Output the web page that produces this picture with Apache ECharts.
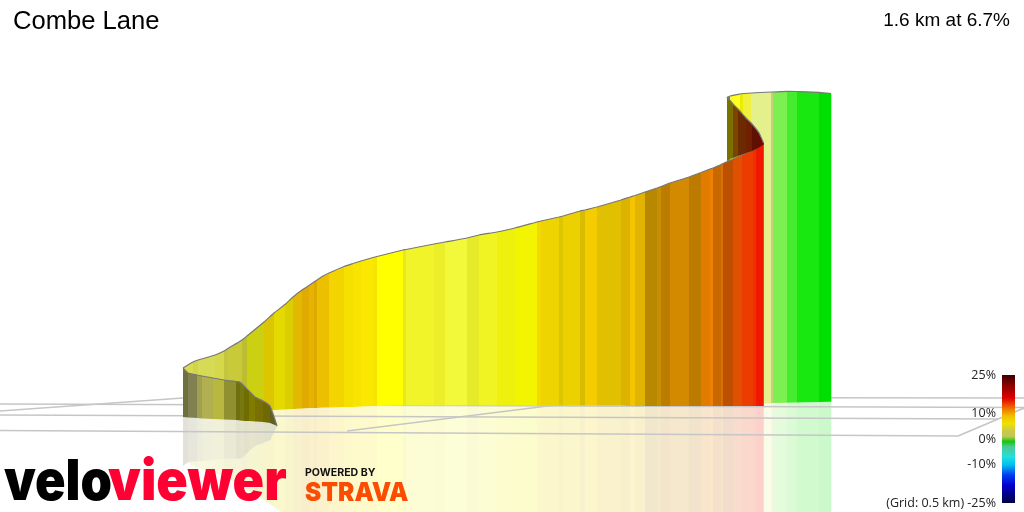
<!DOCTYPE html>
<html><head><meta charset="utf-8"><style>html,body{margin:0;padding:0;background:#fff}#c{width:1024px;height:512px}</style>
<script src="https://cdn.jsdelivr.net/npm/echarts@6/dist/echarts.min.js"></script></head>
<body><div id="c"></div><script>
const titleText = 'Combe Lane';
const summaryText = '1.6 km at 6.7%';
// long ribbon
const ribbonX = [183,193,198,215,224,228,242,247,264,274,285,293,302,309,314,317,323,329,344,353,361,373,377,403,406,434,445,467,479,497,515,537,541,559,563,580,585,597,621,630,635,645,657,661,670,689,701,710,713,721,723,733,742,753,756,763.5];
const ribbonTop = [368,362,360,355,351,348.5,340,336,322,313,304.5,297,290,285.5,282,280,276,273,266.5,263.5,261,257.5,256.5,250,249.5,244,242,238,235,232,228,222,221,217,216,211,210,207,200,197,195.5,192,188,186.5,183,177,172.5,169,168,164.5,163.5,159,155,150,148.5,144];
const ribbonBase = [414,414,414,414,413.5,413.5,413,413,411,410,409.5,409,408.5,408,408,408,407.5,407.5,407,407,406.5,406,406,405.5,405.5,405.5,405.5,405.5,405.5,405.5,405.5,405.5,405.5,405.5,405.5,405.5,405.5,405.5,405.5,406,406,406,406,406,406,406,406,406,406,406,406,406,406,406,406,406];
const ribbonColors = ['#d8dd50','#cfd448','#d6da55','#d4d84a','#c4c640','#c8ca3a','#bcbe30','#ccd012','#dcc600','#e4da00','#dccf00','#e2b800','#e0aa00','#e8b200','#dcaa00','#ecc000','#ecc000','#f4d400','#f6e000','#f8e400','#fae800','#f8e400','#ffff00','#e8e820','#f0f428','#ecee2a','#f2f83a','#e6ea28','#f0f422','#eef00e','#f2f400','#f4d800','#eed400','#dcc600','#ecd000','#d8bc00','#f4cc00','#e0c000','#dcb400','#f4c400','#e0b400','#b88800','#c89000','#bc7c00','#d48a00','#bc7a00','#e07c00','#f08000','#c86800','#d87000','#bc5000','#e05000','#ec3c00','#f03000','#f01800'];
// left curl, inside face
const curlX = [183,188,197,202,213,224,236,240,244,249,255,263,270,277];
const curlTop = [368,373,375,376,378,380,381.5,382,386,391,397,401,406,426];
const curlBase = [417,417.5,418,418.5,419,419.5,420,420.5,421,421,421.5,422,423,426];
const curlColors = ['#6e7040','#808050','#a0a050','#b0b050','#b8b840','#909030','#707010','#787810','#706c00','#807c00','#787000','#706800','#606020'];
// right curl, inside face
const hookX = [727,733,738,746,752,759,763.5];
const hookTop = [97,104,109,118,124,133,143];
const hookBase = [160,158,156,153,151,147.5,144.5];
const hookColors = ['#7a7000','#7c4400','#6c2a00','#702000','#601000','#7c0000'];
// final stretch behind the hook
const tailX = [727,730,740,743,751,771,773,787,797,819,831];
const tailTop = [97.5,96,94,93.5,93,92,92,91.3,91.5,92.3,93.7];
const tailBase = [404,404,404,404,404,403.5,403,402.7,402.5,402,401.7];
const tailColors = ['#8a8a10','#ffff20','#ecec00','#f0f040','#e4f08c','#c8d080','#7cf050','#44ec30','#18e810','#00e000'];
// floor grid
const gridLines = [
 [[0,411],[197,397],[1024,398]],
 [[0,404],[1024,407.5]],
 [[0,415],[998,419]],
 [[0,430.5],[958,436],[1024,408]],
 [[347,431],[620,397]]
];
// gradient scale
const gradeTicks = [-25,-10,0,10,25];
const gradeStops = [25,21,16,12,9,6,3,1,-1,-3,-7,-10,-14,-18,-25];
const gradeColors = ['#3c0000','#8c0000','#e00000','#f07000','#f0c000','#f0e000','#c8c850','#c0c850','#10c810','#50c890','#20e0e0','#00c0f0','#0040f0','#0000d0','#000040'];
const gridNote = '(Grid: 0.5 km) ';

function pale(c){
  const n=parseInt(c.slice(1),16),k=0.2;
  const m=v=>Math.round(255-(255-v)*k);
  return `rgb(${m(n>>16&255)},${m(n>>8&255)},${m(n&255)})`;
}
function strips(xs,tops,bases,colors,z,mirror){
  const data=colors.map((c,i)=>[xs[i],xs[i+1],tops[i],tops[i+1],bases[i],bases[i+1],i]);
  return {type:'custom',coordinateSystem:'cartesian2d',xAxisIndex:0,yAxisIndex:0,z,silent:true,clip:false,
    encode:{x:[0,1],y:[2,3]},data,
    renderItem(p,api){
      const x0=api.value(0),x1=api.value(1);let t0=api.value(2),t1=api.value(3);const b0=api.value(4),b1=api.value(5);
      const c=colors[api.value(6)];
      if(mirror){t0=2*b0-t0;t1=2*b1-t1;}
      const pts=[[x0,t0],[x1+0.3,t1],[x1+0.3,b1],[x0,b0]].map(q=>api.coord(q));
      return {type:'polygon',shape:{points:pts},style:{fill:mirror?pale(c):c}};
    }};
}
function edge(xs,ys,z){
  return {type:'line',xAxisIndex:0,yAxisIndex:0,z,silent:true,showSymbol:false,symbol:'none',clip:false,smooth:0.2,
    lineStyle:{color:'#777',width:1.2},data:xs.map((x,i)=>[x,ys[i]])};
}
const gridSeries=gridLines.map(l=>({type:'line',xAxisIndex:0,yAxisIndex:0,z:2,silent:true,symbol:'none',clip:false,
    lineStyle:{color:'#c6c6c6',width:1.7},data:l}));
const scaleSeries={type:'custom',xAxisIndex:1,yAxisIndex:1,z:7,silent:true,data:[[0,25,-25]],
  renderItem(p,api){
    const a=api.coord([0,api.value(1)]),b=api.coord([0,api.value(2)]);
    const stops=gradeStops.map((g,i)=>({offset:(25-g)/50,color:gradeColors[i]}));
    return {type:'rect',shape:{x:p.coordSys.x,y:a[1],width:p.coordSys.width,height:b[1]-a[1]},
      style:{fill:new echarts.graphic.LinearGradient(0,0,0,1,stops)}};
  }};
const logoFont='900 56px Inter, "Liberation Sans", sans-serif';
const chart=echarts.init(document.getElementById('c'),null,{renderer:'canvas'});
chart.setOption({
  animation:false,backgroundColor:'#fff',
  title:[
    {text:titleText,left:13,top:9,padding:0,textStyle:{fontFamily:'"Liberation Sans"',fontSize:25.6,fontWeight:'normal',color:'#000'}},
    {text:summaryText,right:14,top:11,padding:0,textStyle:{fontFamily:'"Liberation Sans"',fontSize:19,fontWeight:'normal',color:'#000'}}
  ],
  grid:[{left:0,right:0,top:0,bottom:0},{left:1002,width:13,top:375,height:128}],
  xAxis:[{type:'value',min:0,max:1024,show:false,gridIndex:0},{type:'value',min:0,max:1,show:false,gridIndex:1}],
  yAxis:[{type:'value',min:0,max:512,inverse:true,show:false,gridIndex:0},
    {type:'value',min:-25,max:25,gridIndex:1,position:'left',splitLine:{show:false},axisLine:{show:false},axisTick:{show:false},
     axisLabel:{show:true,margin:6,customValues:gradeTicks,hideOverlap:false,fontFamily:'"Open Sans"',fontSize:12.5,color:'#222',
       formatter:v=>(v===gradeTicks[0]?gridNote:'')+v+'%'}}],
  series:[
    strips(tailX,tailTop,tailBase,tailColors,1,true),
    strips(ribbonX,ribbonTop,ribbonBase,ribbonColors,1,true),
    strips(curlX,curlTop,curlBase,curlColors,1,true),
    ...gridSeries,
    strips(tailX,tailTop,tailBase,tailColors,3,false),
    edge(tailX,tailTop,3),
    strips(ribbonX,ribbonTop,ribbonBase,ribbonColors,4,false),
    edge(ribbonX,ribbonTop,4),
    strips(curlX,curlTop,curlBase,curlColors,5,false),
    edge(curlX,curlTop,5),
    strips(hookX,hookTop,hookBase,hookColors,5,false),
    edge(hookX,hookTop,5),
    scaleSeries
  ],
  graphic:[
    {type:'text',x:4,y:455,scaleX:0.9,z:20,style:{text:'velo',font:logoFont,fill:'#000'}},
    {type:'text',x:108,y:455,scaleX:0.93,z:21,style:{text:'viewer',font:logoFont,fill:'#ff0033'}},
    {type:'text',x:305,y:468,scaleX:1.06,z:20,style:{text:'POWERED BY',font:'700 10px Inter, sans-serif',fill:'#111'}},
    {type:'text',x:305,y:480,scaleX:0.94,z:20,style:{text:'STRAVA',font:'900 26px Inter, sans-serif',fill:'#fc4c02'}}
  ]
});
</script></body></html>
